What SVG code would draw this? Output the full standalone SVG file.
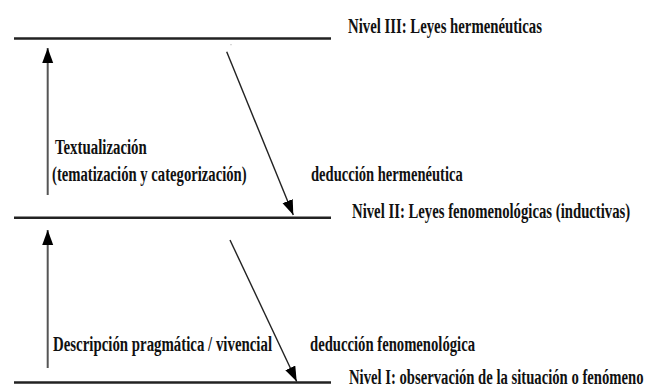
<svg xmlns="http://www.w3.org/2000/svg" width="648" height="389" viewBox="0 0 648 389">
<style>
.t{font-family:"Liberation Serif","DejaVu Serif","Times New Roman",serif;font-weight:700;font-size:20px;fill:#111}
.lvl{stroke:#222;stroke-width:2.6;fill:none}
.up{stroke:#555;stroke-width:2;fill:none}
.dg{stroke:#222;stroke-width:1.4;fill:none}
</style>
<defs>
<marker id="ah" markerUnits="userSpaceOnUse" markerWidth="16" markerHeight="12" refX="15" refY="5.5" orient="auto">
<path d="M0,0 L15,5.5 L0,11 z" fill="#000"/>
</marker>
</defs>
<rect width="648" height="389" fill="#fff"/>
<g id="nivel3">
<line class="lvl" x1="14" y1="38.5" x2="331" y2="38.5"/>
<text class="t" transform="translate(348,32.5) scale(0.74,1)" textLength="262" lengthAdjust="spacingAndGlyphs">Nivel III: Leyes hermenéuticas</text>
</g>
<g id="nivel2">
<line class="lvl" x1="14" y1="217.7" x2="331" y2="217.7"/>
<text class="t" transform="translate(352,218) scale(0.74,1)" textLength="376" lengthAdjust="spacingAndGlyphs">Nivel II: Leyes fenomenológicas (inductivas)</text>
</g>
<g id="nivel1">
<line class="lvl" x1="14" y1="382.5" x2="331" y2="382.5"/>
<text class="t" transform="translate(349,384) scale(0.74,1)" textLength="398" lengthAdjust="spacingAndGlyphs">Nivel I: observación de la situación o fenómeno</text>
</g>
<g id="textualizacion">
<text class="t" transform="translate(55,154) scale(0.74,1)" textLength="124" lengthAdjust="spacingAndGlyphs">Textualización</text>
<text class="t" transform="translate(52,181) scale(0.74,1)" textLength="263" lengthAdjust="spacingAndGlyphs">(tematización y categorización)</text>
</g>
<g id="deduccion-hermeneutica">
<text class="t" transform="translate(311,181) scale(0.74,1)" textLength="205" lengthAdjust="spacingAndGlyphs">deducción hermenéutica</text>
</g>
<g id="descripcion">
<text class="t" transform="translate(53,351) scale(0.74,1)" textLength="296" lengthAdjust="spacingAndGlyphs">Descripción pragmática / vivencial</text>
</g>
<g id="deduccion-fenomenologica">
<text class="t" transform="translate(310,351) scale(0.74,1)" textLength="223" lengthAdjust="spacingAndGlyphs">deducción fenomenológica</text>
</g>
<g id="connectors">
<line class="up" x1="47.7" y1="195" x2="47.7" y2="48" marker-end="url(#ah)"/>
<line class="dg" x1="226.7" y1="51.7" x2="293.3" y2="215" marker-end="url(#ah)"/>
<line class="up" x1="47.7" y1="368" x2="47.7" y2="230" marker-end="url(#ah)"/>
<line class="dg" x1="230" y1="240" x2="296.7" y2="381.5" marker-end="url(#ah)"/>
<circle cx="231" cy="44.7" r="0.6" fill="#aaa"/>
</g>
</svg>
